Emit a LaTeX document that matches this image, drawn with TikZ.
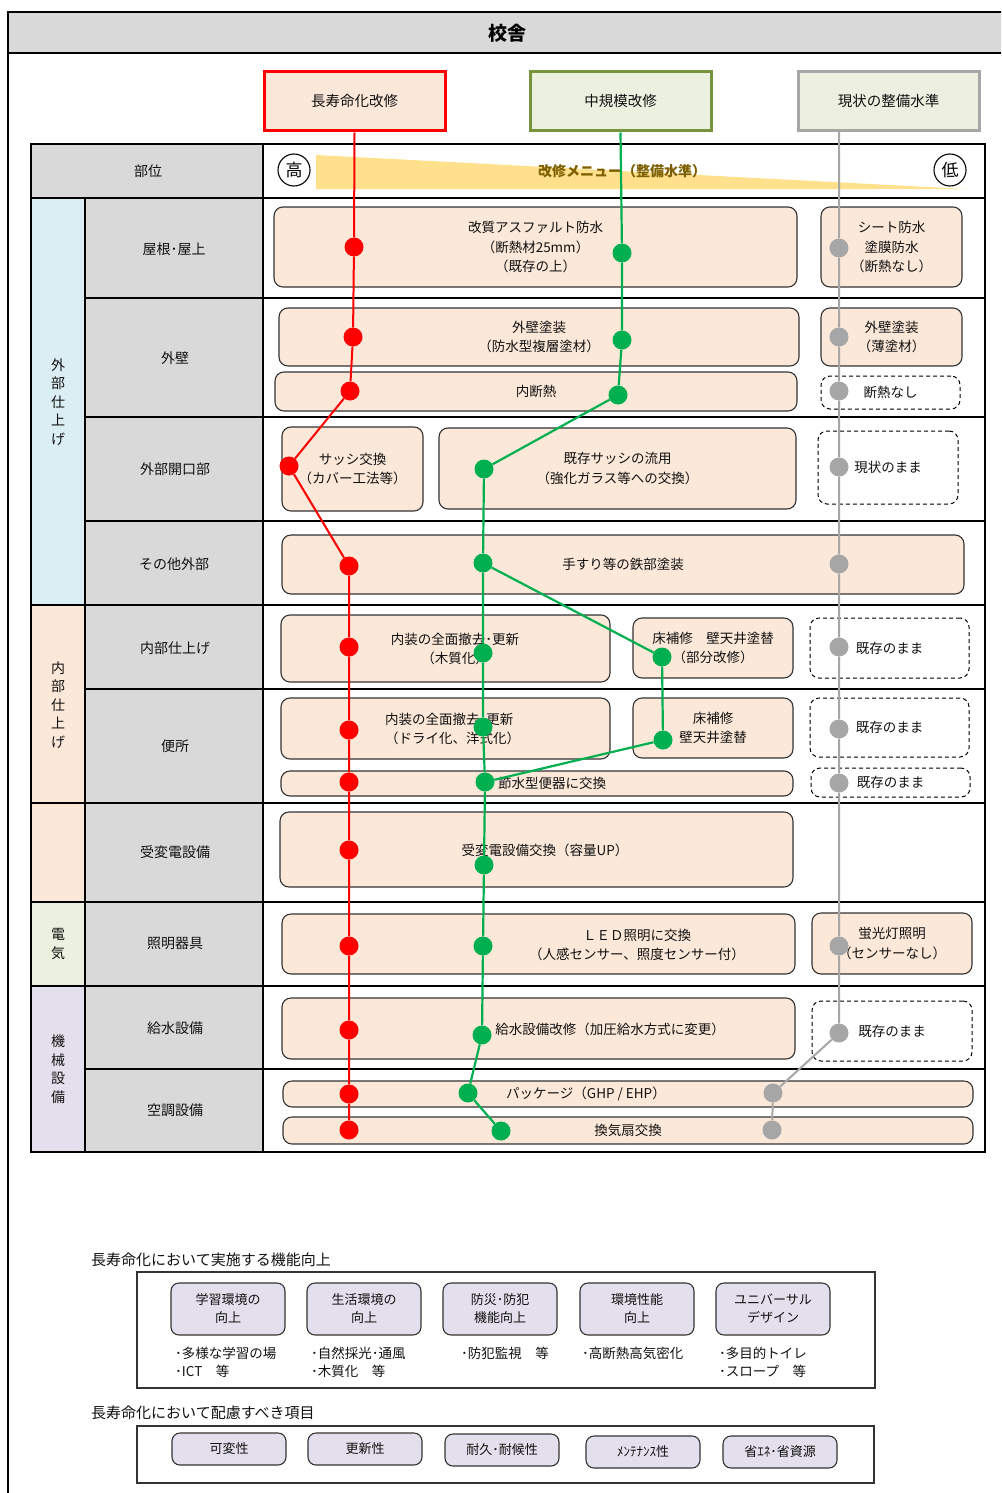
\documentclass[tikz,border=0pt]{standalone}
\usepackage{fontspec}
\setmainfont{Noto Sans CJK JP}
\usetikzlibrary{calc}
\definecolor{peach}{HTML}{FCE8D9}
\definecolor{gray1}{HTML}{D9D9D9}
\definecolor{catblue}{HTML}{DAEEF3}
\definecolor{catgreen}{HTML}{EBF1DE}
\definecolor{catpurple}{HTML}{E4DFEC}
\definecolor{boxline}{HTML}{333333}
\definecolor{txt}{HTML}{111111}
\definecolor{lred}{HTML}{FF0000}
\definecolor{lgreen}{HTML}{00B050}
\definecolor{lgray}{HTML}{A6A6A6}
\definecolor{hdgreen}{HTML}{77933C}
\definecolor{hdfill}{HTML}{EBF1DE}
\definecolor{hdgrayfill}{HTML}{EDF0E1}
\definecolor{tri}{HTML}{FFE08C}
\definecolor{menu}{HTML}{7F6000}
\begin{document}
\begin{tikzpicture}[x=1pt,y=-1pt,
  cell/.style={font=\fontsize{14}{18.5}\selectfont, text=txt, align=center, inner sep=0pt},
  btext/.style={font=\fontsize{13.5}{19.5}\selectfont, text=txt, align=center},
  pbox/.style={draw=boxline, line width=1.1pt, fill=peach, rounded corners=9pt, inner sep=0pt},
  dbox/.style={draw=black, line width=1pt, dash pattern=on 4pt off 3pt, fill=white, rounded corners=9pt, inner sep=0pt},
  hdbox/.style={line width=3pt, minimum width=181pt, minimum height=59pt, inner sep=0pt,
    font=\fontsize{14.5}{17}\selectfont, text=txt},
  grid/.style={line width=2.2pt, black},
  dotbase/.style={circle, minimum size=19pt, inner sep=0pt},
  rdot/.style={dotbase, fill=lred},
  gdot/.style={dotbase, fill=lgreen},
  kdot/.style={dotbase, fill=lgray},
  rline/.style={draw=lred, line width=2pt},
  gline/.style={draw=lgreen, line width=2.2pt},
  kline/.style={draw=lgray, line width=2pt},
  pur/.style={draw=boxline, line width=1.1pt, fill=catpurple, rounded corners=8pt, inner sep=0pt,
    minimum width=114pt, font=\fontsize{13}{18}\selectfont, text=txt, align=center},
  sect/.style={font=\fontsize{15}{18}\selectfont, text=txt, anchor=west, inner sep=0pt},
  bullet/.style={font=\fontsize{13.5}{18}\selectfont, text=txt, anchor=west, align=left, inner sep=0pt},
  levelmark/.style={circle, draw=black, line width=1.1pt, minimum size=32pt, inner sep=0pt,
    font=\fontsize{17}{17}\selectfont}
]
\useasboundingbox (0,0) rectangle (1001,1493);
\clip (0,0) rectangle (1001,1493);

% ---------- outer frame and title bar ----------
\fill[gray1] (8,12) rectangle (1012,53);
\draw[line width=2pt] (8,1500) -- (8,12) -- (1012,12);
\draw[line width=2pt] (8,53) -- (1012,53);
\node[font=\fontsize{19}{19}\selectfont\bfseries, text=black] (title) at (507,33) {校舎};

% ---------- level headers ----------
\node[hdbox, draw=lred, fill=peach] (rh) at (354.5,101.5) {長寿命化改修};
\node[hdbox, draw=hdgreen, fill=hdfill] (gh) at (620.5,101.5) {中規模改修};
\node[hdbox, draw=lgray, fill=hdgrayfill] (kh) at (888.5,101) {現状の整備水準};

% ---------- table backgrounds ----------
\fill[gray1] (31,144) rectangle (263,198);
\fill[gray1] (85,198) rectangle (263,1152);
\fill[catblue] (31,198) rectangle (85,605);
\fill[peach] (31,605) rectangle (85,902);
\fill[catgreen] (31,902) rectangle (85,986);
\fill[catpurple] (31,986) rectangle (85,1152);

% header: level scale
\fill[tri] (316,155) -- (966,189) -- (316,189) -- cycle;
\node[levelmark] (hi) at (294,170) {高};
\node[levelmark] (lo) at (950,170) {低};
\node[font=\fontsize{14}{14}\selectfont\bfseries, text=menu] (menu) at (622,171) {改修メニュー（整備水準）};

% ---------- grid ----------
\draw[grid] (31,198) -- (985,198);
\draw[grid] (85,298) -- (985,298);
\draw[grid] (85,417) -- (985,417);
\draw[grid] (85,521) -- (985,521);
\draw[grid] (31,605) -- (985,605);
\draw[grid] (85,689) -- (985,689);
\draw[grid] (31,803) -- (985,803);
\draw[grid] (31,902) -- (985,902);
\draw[grid] (31,986) -- (985,986);
\draw[grid] (85,1069) -- (985,1069);
\draw[grid] (85,198) -- (85,1152);
\draw[grid] (263,144) -- (263,1152);
\draw[line width=2.6pt] (31,144) rectangle (985,1152);

% ---------- row and group labels ----------
\node[cell] (hpart) at (148,171) {部位};
\node[cell] (c1) at (58,402) {外\\部\\仕\\上\\げ};
\node[cell] (c2) at (58,705) {内\\部\\仕\\上\\げ};
\node[cell] (c3) at (58,944) {電\\気};
\node[cell] (c4) at (58,1069) {機\\械\\設\\備};
\node[cell] (p1) at (174,249) {屋根･屋上};
\node[cell] (p2) at (175,358) {外壁};
\node[cell] (p3) at (175,469) {外部開口部};
\node[cell] (p4) at (174,564) {その他外部};
\node[cell] (p5) at (175,648) {内部仕上げ};
\node[cell] (p6) at (175,746) {便所};
\node[cell] (p7) at (175,852) {受変電設備};
\node[cell] (p8) at (175,944) {照明器具};
\node[cell] (p9) at (175,1028) {給水設備};
\node[cell] (p10) at (175,1110) {空調設備};

% ---------- menu boxes ----------
\node[pbox, btext, minimum width=523pt, minimum height=80pt] (roofA) at (535.5,247) {改質アスファルト防水\\（断熱材25mm）\\（既存の上）};
\node[pbox, btext, minimum width=141pt, minimum height=80pt] (roofC) at (891.5,247) {シート防水\\塗膜防水\\（断熱なし）};
\node[pbox, btext, minimum width=520pt, minimum height=58pt] (wallA) at (539,337) {外壁塗装\\（防水型複層塗材）};
\node[pbox, btext, minimum width=522pt, minimum height=39pt] (insA) at (536,391.5) {内断熱};
\node[pbox, btext, minimum width=141pt, minimum height=58pt] (wallC) at (891.5,337) {外壁塗装\\（薄塗材）};
\node[dbox, btext, minimum width=139pt, minimum height=33pt] (insC) at (890.5,392.5) {断熱なし};
\node[pbox, btext, minimum width=141pt, minimum height=84pt] (sashA) at (352.5,469) {サッシ交換\\（カバー工法等）};
\node[pbox, btext, minimum width=357pt, minimum height=81pt] (sashB) at (617.5,468.5) {既存サッシの流用\\（強化ガラス等への交換）};
\node[dbox, btext, minimum width=140pt, minimum height=73pt] (sashC) at (888,467.5) {現状のまま};
\node[pbox, btext, minimum width=682pt, minimum height=59pt] (rail) at (623,564.5) {手すり等の鉄部塗装};
\node[pbox, minimum width=329pt, minimum height=67pt] (intA) at (445.5,648.5) {};
\node[btext] (intAt) at (455,649) {内装の全面撤去･更新\\（木質化）};
\node[pbox, btext, minimum width=160pt, minimum height=60pt] (intB) at (713,648) {床補修　壁天井塗替\\（部分改修）};
\node[dbox, btext, minimum width=159pt, minimum height=60pt] (intC) at (889.5,648) {既存のまま};
\node[pbox, minimum width=329pt, minimum height=61pt] (wcA) at (445.5,728.5) {};
\node[btext, align=left, anchor=west, inner sep=0pt] (wcAt) at (385,729) {内装の全面撤去･更新\\（ドライ化、洋式化）};
\node[pbox, btext, minimum width=160pt, minimum height=60pt] (wcB) at (713,728) {床補修\\壁天井塗替};
\node[dbox, btext, minimum width=159pt, minimum height=59pt] (wcC) at (889.5,727.5) {既存のまま};
\node[pbox, minimum width=512pt, minimum height=25pt] (wcD) at (537,783.5) {};
\node[btext] (wcDt) at (552,783) {節水型便器に交換};
\node[dbox, btext, minimum width=159pt, minimum height=29pt] (wcE) at (890.5,782.5) {既存のまま};
\node[pbox, minimum width=513pt, minimum height=75pt] (pwA) at (536.5,849.5) {};
\node[btext] (pwAt) at (545,850) {受変電設備交換（容量UP）};
\node[pbox, minimum width=513pt, minimum height=60pt] (ledA) at (538.5,944) {};
\node[btext] (ledAt) at (637,945) {ＬＥＤ照明に交換\\（人感センサー、照度センサー付）};
\node[pbox, btext, minimum width=160pt, minimum height=61pt] (ledC) at (892,943.5) {蛍光灯照明\\（センサーなし）};
\node[pbox, minimum width=513pt, minimum height=61pt] (wsA) at (538.5,1028.5) {};
\node[btext] (wsAt) at (610,1029) {給水設備改修（加圧給水方式に変更）};
\node[dbox, btext, minimum width=160pt, minimum height=60pt] (wsC) at (892,1031) {既存のまま};
\node[pbox, minimum width=690pt, minimum height=26pt] (acA) at (628,1094) {};
\node[btext] (acAt) at (586,1094) {パッケージ（GHP / EHP）};
\node[pbox, btext, minimum width=690pt, minimum height=27pt] (acB) at (628,1130.5) {換気扇交換};

% ---------- level markers ----------
\node[rdot] (r1) at (354,247) {};
\node[rdot] (r2) at (353,337) {};
\node[rdot] (r3) at (350,391) {};
\node[rdot] (r4) at (289,466) {};
\node[rdot] (r5) at (349,566) {};
\node[rdot] (r6) at (349,647) {};
\node[rdot] (r7) at (349,730) {};
\node[rdot] (r8) at (349,782) {};
\node[rdot] (r9) at (349,850) {};
\node[rdot] (r10) at (349,946) {};
\node[rdot] (r11) at (349,1030) {};
\node[rdot] (r12) at (349,1094) {};
\node[rdot] (r13) at (349,1130) {};

\node[gdot] (g1) at (622,253) {};
\node[gdot] (g2) at (622,340) {};
\node[gdot] (g3) at (618,395) {};
\node[gdot] (g4) at (484,469) {};
\node[gdot] (g5) at (483,563) {};
\node[gdot] (g6) at (483,653) {};
\node[gdot] (g7) at (483,727) {};
\node[gdot] (g8) at (485,782) {};
\node[gdot] (g9) at (484,865) {};
\node[gdot] (g10) at (483,946) {};
\node[gdot] (g11) at (482,1035) {};
\node[gdot] (g12) at (468,1093) {};
\node[gdot] (g13) at (501,1131) {};
\node[gdot] (gb1) at (662,657) {};
\node[gdot] (gb2) at (663,740) {};

\node[kdot] (k1) at (839,248) {};
\node[kdot] (k2) at (839,337) {};
\node[kdot] (k3) at (839,391) {};
\node[kdot] (k4) at (839,467) {};
\node[kdot] (k5) at (839,564) {};
\node[kdot] (k6) at (839,647) {};
\node[kdot] (k7) at (839,729) {};
\node[kdot] (k8) at (839,783) {};
\node[kdot] (k9) at (839,946) {};
\node[kdot] (k10) at (839,1033) {};
\node[kdot] (k11) at (773,1093) {};
\node[kdot] (k12) at (772,1130) {};
\coordinate (ktop) at (kh.south -| k1);

% ---------- level paths ----------
\draw[rline] (rh.south) -- (r1) -- (r2) -- (r3) -- (r4) -- (r5) -- (r6) -- (r7) -- (r8)
  -- (r9) -- (r10) -- (r11) -- (r12) -- (r13);
\draw[gline] (gh.south) -- (g1) -- (g2) -- (g3) -- (g4) -- (g5) -- (g6) -- (g7) -- (g8)
  -- (g9) -- (g10) -- (g11) -- (g12) -- (g13);
\draw[gline] (g5) -- (gb1) -- (gb2) -- (g8);
\draw[kline] (ktop) -- (k1) -- (k2) -- (k3) -- (k4) -- (k5) -- (k6) -- (k7) -- (k8)
  -- (k9) -- (k10) -- (k11) -- (k12);

% ---------- functional improvements ----------
\node[sect] (s1) at (91,1260) {長寿命化において実施する機能向上};
\draw[draw=boxline, line width=1.2pt] (137,1272) rectangle (875,1388);
\node[pur, minimum height=52pt] (f1) at (228,1309) {学習環境の\\向上};
\node[pur, minimum height=52pt] (f2) at (364,1309) {生活環境の\\向上};
\node[pur, minimum height=52pt] (f3) at (500,1309) {防災･防犯\\機能向上};
\node[pur, minimum height=52pt] (f4) at (637,1309) {環境性能\\向上};
\node[pur, minimum height=52pt] (f5) at (773,1309) {ユニバーサル\\デザイン};
\node[bullet] (e1) at (175,1362) {･多様な学習の場\\･ICT　等};
\node[bullet] (e2) at (311,1362) {･自然採光･通風\\･木質化　等};
\node[bullet] (e3) at (461,1353) {･防犯監視　等};
\node[bullet] (e4) at (582,1353) {･高断熱高気密化};
\node[bullet] (e5) at (719,1362) {･多目的トイレ\\･スロープ　等};

% ---------- items to consider ----------
\node[sect] (s2) at (91,1413) {長寿命化において配慮すべき項目};
\draw[draw=boxline, line width=1.2pt] (137,1426) rectangle (874,1483);
\node[pur, minimum height=32pt] (q1) at (229,1449) {可変性};
\node[pur, minimum height=32pt] (q2) at (365,1449) {更新性};
\node[pur, minimum height=32pt] (q3) at (502,1450) {耐久･耐候性};
\node[pur, minimum height=32pt] (q4) at (643,1452) {ﾒﾝﾃﾅﾝｽ性};
\node[pur, minimum height=32pt] (q5) at (780,1452) {省ｴﾈ･省資源};
\end{tikzpicture}
\end{document}
